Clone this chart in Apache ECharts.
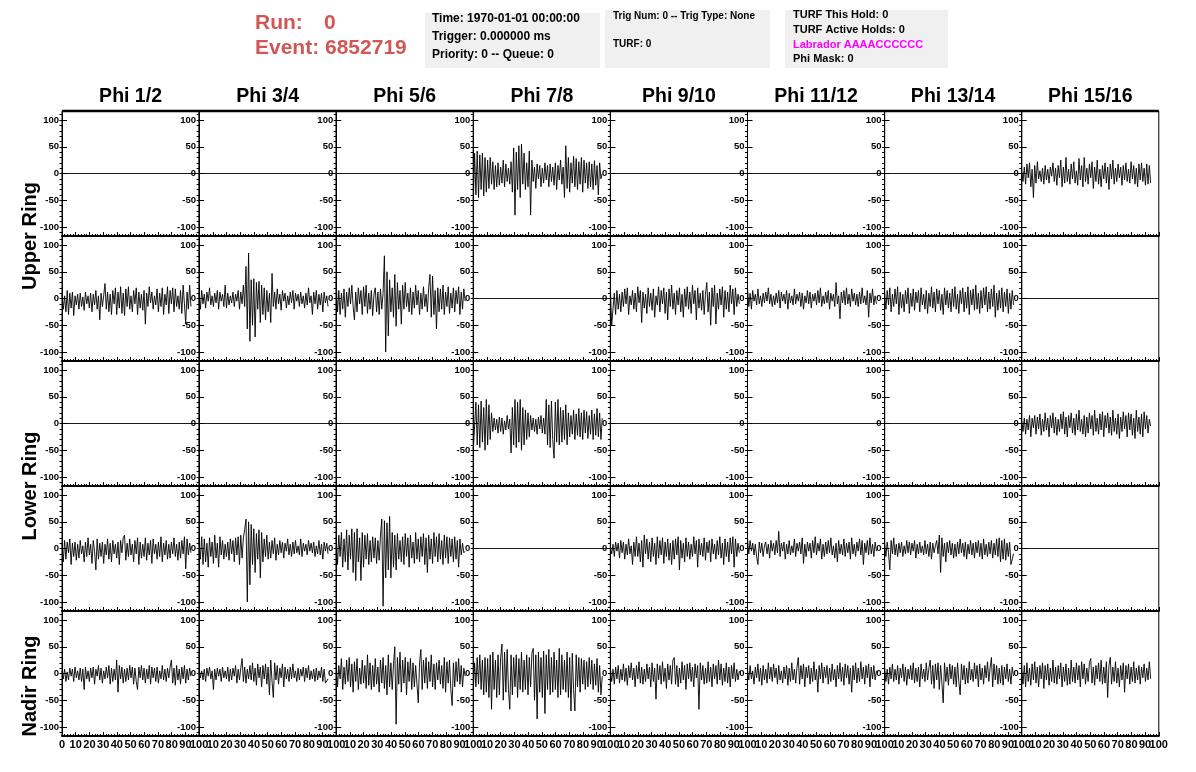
<!DOCTYPE html>
<html><head><meta charset="utf-8">
<script src="https://cdn.jsdelivr.net/npm/echarts@6/dist/echarts.min.js"></script>
<style>html,body{margin:0;padding:0;background:#fff}#c{width:1196px;height:772px}</style>
</head><body><div id="c"></div>
<script>
// ---------------- text content ----------------
const PHI_LABELS = ['Phi 1/2','Phi 3/4','Phi 5/6','Phi 7/8','Phi 9/10','Phi 11/12','Phi 13/14','Phi 15/16'];
const RING_LABELS = ['Upper Ring','Lower Ring','Nadir Ring'];
const RUN_NUMBER = '0';
const EVENT_NUMBER = '6852719';
const BOX1_LINES = ['Time: 1970-01-01 00:00:00','Trigger: 0.000000 ms','Priority: 0 -- Queue: 0'];
const BOX2_LINES = ['Trig Num: 0 -- Trig Type: None','TURF: 0'];
const BOX3_LINES = ['TURF This Hold: 0','TURF Active Holds: 0','Labrador AAAACCCCCC','Phi Mask: 0'];

// ---------------- axes ----------------
const Y_MAJOR_TICKS = [-100,-50,0,50,100];
const Y_MINOR_TICKS = [-110,-100,-90,-80,-70,-60,-50,-40,-30,-20,-10,0,10,20,30,40,50,60,70,80,90,100,110];
const X_LABELS_FIRST = [0,10,20,30,40,50,60,70,80,90];
const X_LABELS_OTHER = [10,20,30,40,50,60,70,80,90];
const X_LABEL_END = [100];
const Y_RANGE = [-117, 117];
const X_RANGE = [0, 100];
const X_TICK_STEP = 10;
const SAMPLE_DT = 0.95; // ns per sample
const FLAT_LEVEL = 0;

// ---------------- waveforms (100 samples each) ----------------
const R0C4 = [-55,38,-40,42,-45,35,-30,38,-42,30, -35,25,-28,30,-20,22,-30,15,-25,20, -22,12,-18,25,-25,18,-15,10,-20,22,
 -35,48,-78,40,-30,52,-45,55,-20,38, -30,20,-25,42,-78,25,-15,12,-28,18, -10,15,-25,10,-18,20,-12,15,-25,18,
 -15,12,-22,20,-30,15,-12,25,-20,12, -45,52,-28,30,-35,20,-18,32,-25,28, -30,22,-20,30,-35,25,-18,20,-28,22, -25,18,-30,24,-22,15,-40,20,-10,0];
const R0C8 = [5,-15,12,-20,18,-8,20,-25,8,-45, 15,-18,22,-10,5,-15,10,-20,15,-12, 8,-18,12,-5,20,-15,10,-22,15,-8,
 25,-25,12,-18,30,-15,8,-20,18,-10, 22,-18,5,-22,28,-12,15,-25,30,-15, 10,-20,18,-8,22,-28,12,-15,25,-20,
 8,-25,15,-10,20,-18,12,-30,18,-10, 25,-20,10,-15,18,-8,12,-22,15,-12, 20,-15,8,-18,22,-10,15,-20,10,-25, 18,-12,20,-15,10,-22,18,-20,15,-18];
const R1C1 = [8,-20,5,-25,15,-30,10,-18,12,-32, 5,-12,8,-20,10,-15,3,-22,12,-10, 5,-18,10,-25,8,-12,15,-20,5,-40,
 10,-15,5,28,-20,12,-25,8,-30,15, -10,20,-30,12,-18,22,-28,10,-32,18, -15,22,-20,5,-25,15,-10,20,-30,12,
 -18,8,-22,15,-48,10,-15,22,-8,12, -20,5,-12,18,-25,10,-15,20,-30,8, -12,22,-28,15,-10,20,-25,18,-15,5, -20,15,-28,25,-10,-48,12,-20,25,-15];
const R1C2 = [10,-20,15,-10,8,-18,12,-5,20,-12, 5,-15,10,-8,15,-20,12,-5,8,-15, 25,-18,10,-12,5,-8,12,-15,8,-5,
 15,-20,12,-10,25,-15,60,-57,85,-80, 35,-50,37,-72,30,-20,32,-45,25,-30, 20,-40,15,-25,10,-45,47,-15,12,-20,
 18,-10,8,-22,15,-5,10,-18,5,-12, 12,-8,15,-20,10,-5,8,-15,12,-10, 5,-18,10,-12,20,-8,5,-30,12,-10, 15,-20,8,-12,10,-25,12,-8,5,-15];
const R1C3 = [30,-25,15,-30,10,-20,18,-35,12,-15, 20,-10,25,-15,-40,12,-25,20,-10,15, -30,22,-15,25,-28,10,-20,15,-32,8,
 20,-25,12,-30,18,-20,10,80,-100,50, -70,35,-25,20,-35,45,-52,30,-20,15, -48,25,-20,30,-15,10,-25,20,-30,12,
 -18,25,-12,15,-30,10,-20,22,-15,8, -25,20,45,-35,42,-30,15,-57,20,-25, 18,-20,25,-30,12,-15,22,-28,10,-18, 20,-25,15,-10,22,-30,12,-20,18,-5];
const R1C5 = [20,-50,-48,10,-30,15,-20,8,-25,12, -15,18,-10,20,-30,5,-12,15,-20,10, -25,22,-8,15,-45,12,-18,8,-28,20,
 -15,10,-22,18,-35,5,-12,22,-25,15, -10,20,-28,12,-40,18,-15,25,-20,10, -30,15,-12,20,-25,8,-35,18,-15,22,
 -20,12,-28,25,-10,15,-40,20,-18,10, -22,15,-30,8,30,-25,12,-50,20,-15, 25,-48,10,-20,18,-12,22,-35,15,-20, 12,-25,25,-10,18,-30,20,-15,8,-10];
const R1C6 = [20,-15,10,-20,15,-5,8,-12,18,-10, 5,-15,10,-8,12,-5,20,-10,8,-15, 5,-12,10,-8,15,-18,12,-5,8,-10,
 15,-20,10,-8,5,-12,18,-10,8,-5, 12,-15,10,-20,5,-8,15,-10,12,-18, 8,-5,10,-12,15,-8,20,-15,5,-10,
 12,-8,15,-20,10,-5,8,-15,30,-10, 5,-38,12,-8,15,-12,20,-10,8,-15, 18,-5,10,-12,8,-15,12,-10,20,-8, 5,-12,15,-35,10,-8,18,-12,5,-10];
const R1C7 = [10,-20,15,-12,20,-25,8,-15,18,-10, 22,-30,12,-18,8,-25,15,-10,20,-28, 10,-15,18,-22,12,-8,15,-25,20,-12,
 8,-20,15,-28,10,-15,22,-18,12,-25, 18,-10,15,-22,8,-30,20,-12,15,-18, 10,-25,18,-15,22,-20,8,-28,15,-10,
 20,-25,12,-18,22,-30,15,-12,18,-22, 25,-20,10,-28,15,-18,20,-12,22,-25, 12,-20,18,-15,25,-35,10,-22,15,-18, 20,-25,12,-15,18,-28,10,-20,15,-12];
const R2C4 = [-50,-48,40,-40,35,-45,42,-35,30,-50, 45,-40,35,-30,20,-15,10,-12,8,-18, 12,-15,10,-20,5,-12,15,-10,8,-55,
 30,-40,45,-45,40,-35,45,-50,30,-40, 25,-30,20,-25,15,-12,10,-15,8,-20, 12,-10,15,-18,10,-20,45,-40,35,-45,
 42,-30,-65,40,-35,45,-40,30,-35,25, -30,35,-40,20,-25,15,-20,25,-30,18, -22,28,-25,20,-30,25,-18,22,-28,15, -20,25,-30,18,-22,28,-25,20,-30,10];
const R2C8 = [5,-15,10,-20,8,-12,15,-25,10,-8, 15,-20,12,-10,18,-22,8,-15,20,-12, 10,-25,15,-8,20,-18,12,-22,8,-15,
 18,-10,22,-20,12,-25,15,-8,20,-18, 10,-22,18,-12,25,-15,8,-20,15,-25, 12,-18,20,-10,15,-22,25,-15,10,-20,
 18,-12,22,-25,15,-8,20,-18,12,-22, 25,-15,10,-20,18,-28,12,-15,22,-10, 15,-25,20,-12,18,-22,10,-28,25,-15, 12,-20,18,-25,22,-10,15,-18,8,-5];
const R3C1 = [10,-25,15,-20,12,-8,18,-30,10,-15, 12,-22,8,-18,15,-10,5,-25,12,-15, 20,-12,8,-28,15,-5,-40,18,-20,10,
 -15,12,-28,8,-12,18,-20,10,-25,15, -10,8,-18,12,-30,15,-8,20,25,-22, 10,-15,18,-12,8,-25,15,-10,20,-30,
 12,-18,8,-15,20,-22,10,-12,15,-28, 18,-10,8,-20,12,-15,22,-25,10,-12, 15,-20,8,-18,12,-10,20,-15,8,-22, 12,-18,15,-10,22,-38,18,-12,10,-8];
const R3C2 = [15,-20,22,-30,18,-25,10,-35,20,-15, 12,-28,25,-18,10,-35,22,-12,15,-20, 8,-15,12,-22,18,-10,15,-25,20,-12,
 22,-30,25,-18,20,35,55,-100,50,-68, 45,-30,37,-45,28,-20,35,-55,30,-25, 18,-15,25,-20,12,-18,15,-10,20,-22,
 8,-12,15,-8,12,-18,10,-5,18,-12, 8,-15,12,-10,15,-8,5,-12,18,-15, 10,-5,8,-12,15,-5,10,-8,12,-15, 5,-10,15,-12,8,-20,12,-5,10,-10];
const R3C3 = [20,-30,25,-15,30,-35,18,-25,35,-40, 25,-20,37,-45,30,-60,37,-25,20,-60, 30,-35,25,-20,28,-30,15,-25,22,-18,
 20,-28,15,-22,25,55,-108,52,-55,48, -40,60,-55,30,-35,25,-40,28,-20,15, -25,22,-30,28,-15,20,-35,25,-18,12,
 -28,30,-20,18,-25,22,-15,28,-30,20, -45,25,-20,18,-28,30,-15,22,-25,28, -20,15,-30,25,-18,22,-28,20,-15,18, -25,22,-20,15,-35,18,-12,10,-8,-5];
const R3C5 = [5,-10,8,-15,12,-5,10,-18,15,-8, 12,-20,8,-12,18,-10,5,-30,12,-15, 22,-15,10,-25,15,-35,25,-10,18,-20,
 12,-25,20,-15,10,-30,22,-18,15,-12, 20,-28,12,-15,18,-22,10,-30,15,-20, 18,-12,22,-40,15,-18,10,-25,20,-15,
 12,-20,8,-15,22,-10,15,-35,18,-12, 10,-15,20,-22,12,-8,15,-25,18,-10, 8,-20,15,-12,22,-18,10,-30,18,-15, 12,-25,20,-10,22,-35,18,-15,10,-8];
const R3C6 = [20,-10,15,-5,10,-12,8,-15,-30,12, -8,10,-15,5,12,-10,8,-18,15,-5, 10,-12,15,-8,32,-15,10,-5,12,-20,
 8,-10,15,-12,5,-8,18,-15,10,-5, 12,-10,20,-28,8,-15,12,-5,10,-18, 15,-8,22,-12,10,-5,18,-20,8,-15,
 12,-10,15,-8,20,-12,5,-18,10,-25, 15,-10,8,-12,18,-15,10,-8,12,-20, 20,-10,8,-15,12,-5,18,-12,15,-30, 10,-8,15,-12,20,-10,8,-15,12,-5];
const R3C7 = [10,-15,12,-8,-40,15,-10,20,-12,8, -15,10,-8,12,-15,5,-10,15,-8,12, -12,10,-5,15,-18,8,-10,12,-8,5,
 -12,15,-10,8,-15,12,-20,10,-8,5, 15,-10,25,-45,20,-15,10,-25,12,-8, 15,-12,10,-18,8,-15,12,-10,18,-8,
 10,-15,12,-20,8,-10,15,-12,10,-18, 12,-8,15,-15,10,-20,18,-12,8,-15, 12,-10,15,-18,10,-12,18,-15,20,-25, 15,-20,18,-22,10,-15,12,-30,-32,-10];
const R4C1 = [5,-10,8,-15,3,-12,10,-5,8,-15, 12,-8,5,-12,10,-15,8,-30,12,-10, 5,-15,10,-8,12,-20,8,-5,15,-12,
 10,-18,5,-10,12,-8,15,-20,10,-15, 8,-12,25,-35,15,-10,12,-18,8,-15, 10,-12,15,-8,12,-20,10,-15,-30,12,
 -8,15,-12,10,-18,8,-10,15,-20,12, -8,10,-15,12,-18,5,-10,15,-12,8, -15,10,-8,12,25,-18,10,-22,15,-12, 8,-20,12,-10,15,-18,8,-12,10,-5];
const R4C2 = [10,-8,5,-12,8,-15,10,-5,12,-10, 5,-30,8,-12,10,-5,8,-15,12,-8, 5,-10,12,-15,8,-12,10,-5,15,-18,
 8,-12,10,28,-15,12,-18,8,-10,15, -12,20,-15,10,-22,18,-8,12,-25,15, -10,18,-20,12,-40,25,-15,-45,20,-12,
 15,-20,10,-8,18,-25,12,-10,8,-15, 12,-10,18,-8,5,-15,10,-12,8,-5, 12,-15,10,-8,15,-12,5,-10,8,-15, 10,-12,5,-8,12,-15,8,-18,-20,-10];
const R4C3 = [20,-25,15,-10,28,-30,12,-20,25,-15, 30,-25,18,-35,22,-15,28,-30,10,-20, 25,-18,15,-28,35,-22,20,-30,15,-25,
 28,-20,12,-35,25,-18,30,-28,15,-40, 35,-25,20,-30,18,50,-95,30,-20,40, -35,25,-18,30,-40,22,-15,28,-30,20,
 -25,15,-20,-55,20,45,-30,25,-18,30, -28,22,-15,35,-25,18,-30,20,-12,25, -20,15,-28,30,-35,22,-18,25,-30,-60, 20,-25,22,-15,28,-20,15,-25,10,-5];
const R4C4 = [-30,20,-25,30,-20,35,-30,25,-40,30, -35,28,-45,35,-67,40,-30,25,-45,35, -40,30,55,-50,40,-35,45,-30,-67,35,
 -40,30,-25,35,-45,28,-30,40,-35,25, -30,35,-40,30,-25,38,47,-50,35,-85, 40,-35,30,-45,42,-75,35,-30,45,-40,
 30,-35,40,-30,25,-45,47,-40,35,-30, 25,-35,40,-45,30,-70,38,-30,-70,35, -25,30,-35,28,-20,25,-30,22,-25,30, -20,25,-30,18,-22,28,-35,15,-40,-5];
const R4C5 = [10,-15,8,-20,12,-10,15,-18,8,-12, 18,-15,10,-22,15,-8,20,-12,10,-25, 15,-10,22,-18,12,-20,8,-15,18,-10,
 12,-25,20,-15,10,-48,18,-12,15,-20, 22,-15,10,-28,18,-12,15,-20,25,30, -20,15,-25,10,-18,22,-12,15,-30,18,
 -10,20,-15,12,-25,18,-8,15,-67,20, -12,15,-20,10,-18,22,-15,12,-25,18, -10,15,-20,25,-12,18,-22,10,-15,20, -18,12,-25,15,-10,20,-15,8,-12,5];
const R4C6 = [8,-12,15,-10,5,-20,12,-8,18,-15, 10,-22,15,-12,8,-18,20,-10,12,-15, 18,-8,10,-20,15,-12,5,-18,12,-10,
 15,-22,10,-15,20,-12,8,-18,12,30, -20,15,-10,18,-25,12,-8,15,-20,10, -15,22,-12,8,-35,15,-10,20,-18,12,
 -8,15,-20,10,-15,18,-12,8,-25,15, -10,20,-15,12,-22,18,-8,15,-20,10, -35,15,-12,20,-18,10,-15,22,-10,12, -20,15,-8,18,-25,12,-10,15,-12,5];
const R4C7 = [10,-15,8,-20,12,-10,18,-15,8,-12, 15,-20,10,-8,18,-15,12,-22,8,-10, 15,-12,20,-18,10,-15,12,-25,18,-10,
 8,-15,20,-12,10,25,-20,15,-28,18, -12,20,-30,15,-18,-55,20,-15,12,-22, 18,-10,15,-20,12,-25,20,-15,-40,18,
 -12,15,-20,10,-18,22,-12,8,-15,20, -10,15,-25,18,-12,10,-20,15,-8,22, -15,10,30,-25,18,-12,15,-20,10,-18, 15,-22,12,-10,18,-15,8,-20,12,-5];
const R4C8 = [10,-20,15,-25,20,-15,10,-22,18,-12, 22,-18,12,-25,15,-10,20,-28,15,-12, 18,-22,10,-15,25,-18,12,-20,15,-10,
 20,-25,12,-15,18,-22,10,-20,25,-15, 12,-18,20,-12,15,-25,22,-10,18,-20, 10,-15,20,28,-18,12,-22,15,-10,20,
 -15,25,-20,12,-18,22,-45,15,30,-20, 12,-15,22,-18,10,-25,15,-12,20,-35, 15,-10,18,-20,12,-15,22,-18,10,-12, 15,-20,12,-8,18,-15,10,-12,22,-10];

const FLAT = null; // channel with no signal: drawn at FLAT_LEVEL across the window
// rows: Upper(top), Upper(bottom), Lower(top), Lower(bottom), Nadir
const TRACES = [
  [FLAT, FLAT, FLAT, R0C4, FLAT, FLAT, FLAT, R0C8],
  [R1C1, R1C2, R1C3, FLAT, R1C5, R1C6, R1C7, FLAT],
  [FLAT, FLAT, FLAT, R2C4, FLAT, FLAT, FLAT, R2C8],
  [R3C1, R3C2, R3C3, FLAT, R3C5, R3C6, R3C7, FLAT],
  [R4C1, R4C2, R4C3, R4C4, R4C5, R4C6, R4C7, R4C8]
];

// ---------------- layout ----------------
const GRID_LEFT = 62, COL_W = 137.1, GRID_TOP = 111, ROW_H = 125;
const NROWS = 5, NCOLS = 8;
const FONT = '"Liberation Sans", Arial, Helvetica, sans-serif';
const XLAB = {color: '#000', fontFamily: FONT, fontWeight: 'bold', fontSize: 11, margin: 3, hideOverlap: false};

const grids = [], xAxes = [], yAxes = [], series = [];
for (let r = 0; r < NROWS; r++) {
  for (let c = 0; c < NCOLS; c++) {
    const i = r * NCOLS + c;
    grids.push({left: GRID_LEFT + c * COL_W, top: GRID_TOP + r * ROW_H, width: COL_W, height: ROW_H,
      show: true, borderColor: '#000', borderWidth: 1, containLabel: false});
    xAxes.push({type: 'value', gridIndex: i, min: X_RANGE[0], max: X_RANGE[1], interval: X_TICK_STEP,
      axisLine: {show: true, onZero: false, lineStyle: {color: '#000', width: 2}},
      axisTick: {show: true, inside: true, length: 4, lineStyle: {color: '#000', width: 1}},
      minorTick: {show: true, splitNumber: 5, length: 2, lineStyle: {color: '#000', width: 1}},
      splitLine: {show: false}, minorSplitLine: {show: false},
      axisLabel: Object.assign({show: r === NROWS - 1, customValues: c === 0 ? X_LABELS_FIRST : X_LABELS_OTHER}, XLAB)});
    yAxes.push({type: 'value', gridIndex: i, min: Y_RANGE[0], max: Y_RANGE[1],
      axisLine: {show: true, onZero: false, lineStyle: {color: '#000', width: 1}},
      axisTick: {show: true, inside: true, length: 5, customValues: Y_MAJOR_TICKS, lineStyle: {color: '#000'}},
      splitLine: {show: false},
      axisLabel: {show: true, customValues: Y_MAJOR_TICKS, color: '#000', fontFamily: FONT, fontWeight: 'bold', fontSize: 9.5, margin: 3}});
    yAxes.push({type: 'value', gridIndex: i, min: Y_RANGE[0], max: Y_RANGE[1],
      axisLine: {show: false},
      axisTick: {show: true, inside: true, length: 2.5, customValues: Y_MINOR_TICKS, lineStyle: {color: '#000'}},
      splitLine: {show: false}, axisLabel: {show: false}});
    const tr = TRACES[r][c];
    const data = tr === FLAT ? [[X_RANGE[0], FLAT_LEVEL], [X_RANGE[1], FLAT_LEVEL]]
                             : tr.map((v, k) => [k * SAMPLE_DT, v]);
    series.push({type: 'line', xAxisIndex: i, yAxisIndex: 2 * i, data, symbol: 'none', showSymbol: false,
      silent: true, animation: false, lineStyle: {color: '#000', width: 0.9}, clip: true});
  }
}
// end-of-window "100" labels on the bottom row (separate axis so it is not dropped as an overlap)
for (let c = 0; c < NCOLS; c++) {
  const i = (NROWS - 1) * NCOLS + c;
  xAxes.push({type: 'value', gridIndex: i, position: 'bottom', min: X_RANGE[0], max: X_RANGE[1],
    axisLine: {show: false}, axisTick: {show: false}, splitLine: {show: false},
    axisLabel: Object.assign({show: true, customValues: X_LABEL_END, showMaxLabel: true}, XLAB)});
}

// ---------------- header & titles ----------------
const graphic = [];
graphic.push({type: 'line', shape: {x1: GRID_LEFT, y1: GRID_TOP, x2: GRID_LEFT + NCOLS * COL_W, y2: GRID_TOP}, style: {stroke: '#000', lineWidth: 2.5}, z: 10});
PHI_LABELS.forEach((t, c) => graphic.push({type: 'text', x: GRID_LEFT + (c + 0.5) * COL_W, y: 97,
  style: {text: t, font: 'bold 19.5px ' + FONT, fill: '#000', textAlign: 'center', textVerticalAlign: 'middle'}}));
const ringCenters = [GRID_TOP + ROW_H, GRID_TOP + 3 * ROW_H, 686];
RING_LABELS.forEach((t, k) => graphic.push({type: 'text', x: 30, y: ringCenters[k], rotation: Math.PI / 2,
  style: {text: t, font: 'bold 20px ' + FONT, fill: '#000', textAlign: 'center', textVerticalAlign: 'middle'}}));
const RED = '#d35656';
graphic.push({type: 'text', x: 255, y: 23, style: {text: 'Run:', font: 'bold 21px ' + FONT, fill: RED, textVerticalAlign: 'middle'}});
graphic.push({type: 'text', x: 324, y: 23, style: {text: RUN_NUMBER, font: 'bold 21px ' + FONT, fill: RED, textVerticalAlign: 'middle'}});
graphic.push({type: 'text', x: 255, y: 48, style: {text: 'Event: ' + EVENT_NUMBER, font: 'bold 21px ' + FONT, fill: RED, textVerticalAlign: 'middle'}});
const BOX_BG = '#f0f0f0';
graphic.push({type: 'rect', shape: {x: 425, y: 13, width: 175, height: 55}, style: {fill: BOX_BG}, z: -1});
graphic.push({type: 'rect', shape: {x: 605, y: 10, width: 165, height: 58}, style: {fill: BOX_BG}, z: -1});
graphic.push({type: 'rect', shape: {x: 785, y: 10, width: 163, height: 58}, style: {fill: BOX_BG}, z: -1});
[19, 37, 55].forEach((y, k) => graphic.push({type: 'text', x: 432, y, style: {text: BOX1_LINES[k], font: 'bold 12px ' + FONT, fill: '#000', textVerticalAlign: 'middle'}}));
[16, 44].forEach((y, k) => graphic.push({type: 'text', x: 613, y, style: {text: BOX2_LINES[k], font: 'bold 10px ' + FONT, fill: '#000', textVerticalAlign: 'middle'}}));
[15, 29.5, 45, 59].forEach((y, k) => graphic.push({type: 'text', x: 793, y, style: {text: BOX3_LINES[k], font: 'bold 11px ' + FONT, fill: k === 2 ? '#ff00ff' : '#000', textVerticalAlign: 'middle'}}));

const chart = echarts.init(document.getElementById('c'), null, {renderer: 'canvas'});
chart.setOption({animation: false, backgroundColor: '#fff', grid: grids, xAxis: xAxes, yAxis: yAxes, series, graphic});
</script></body></html>
